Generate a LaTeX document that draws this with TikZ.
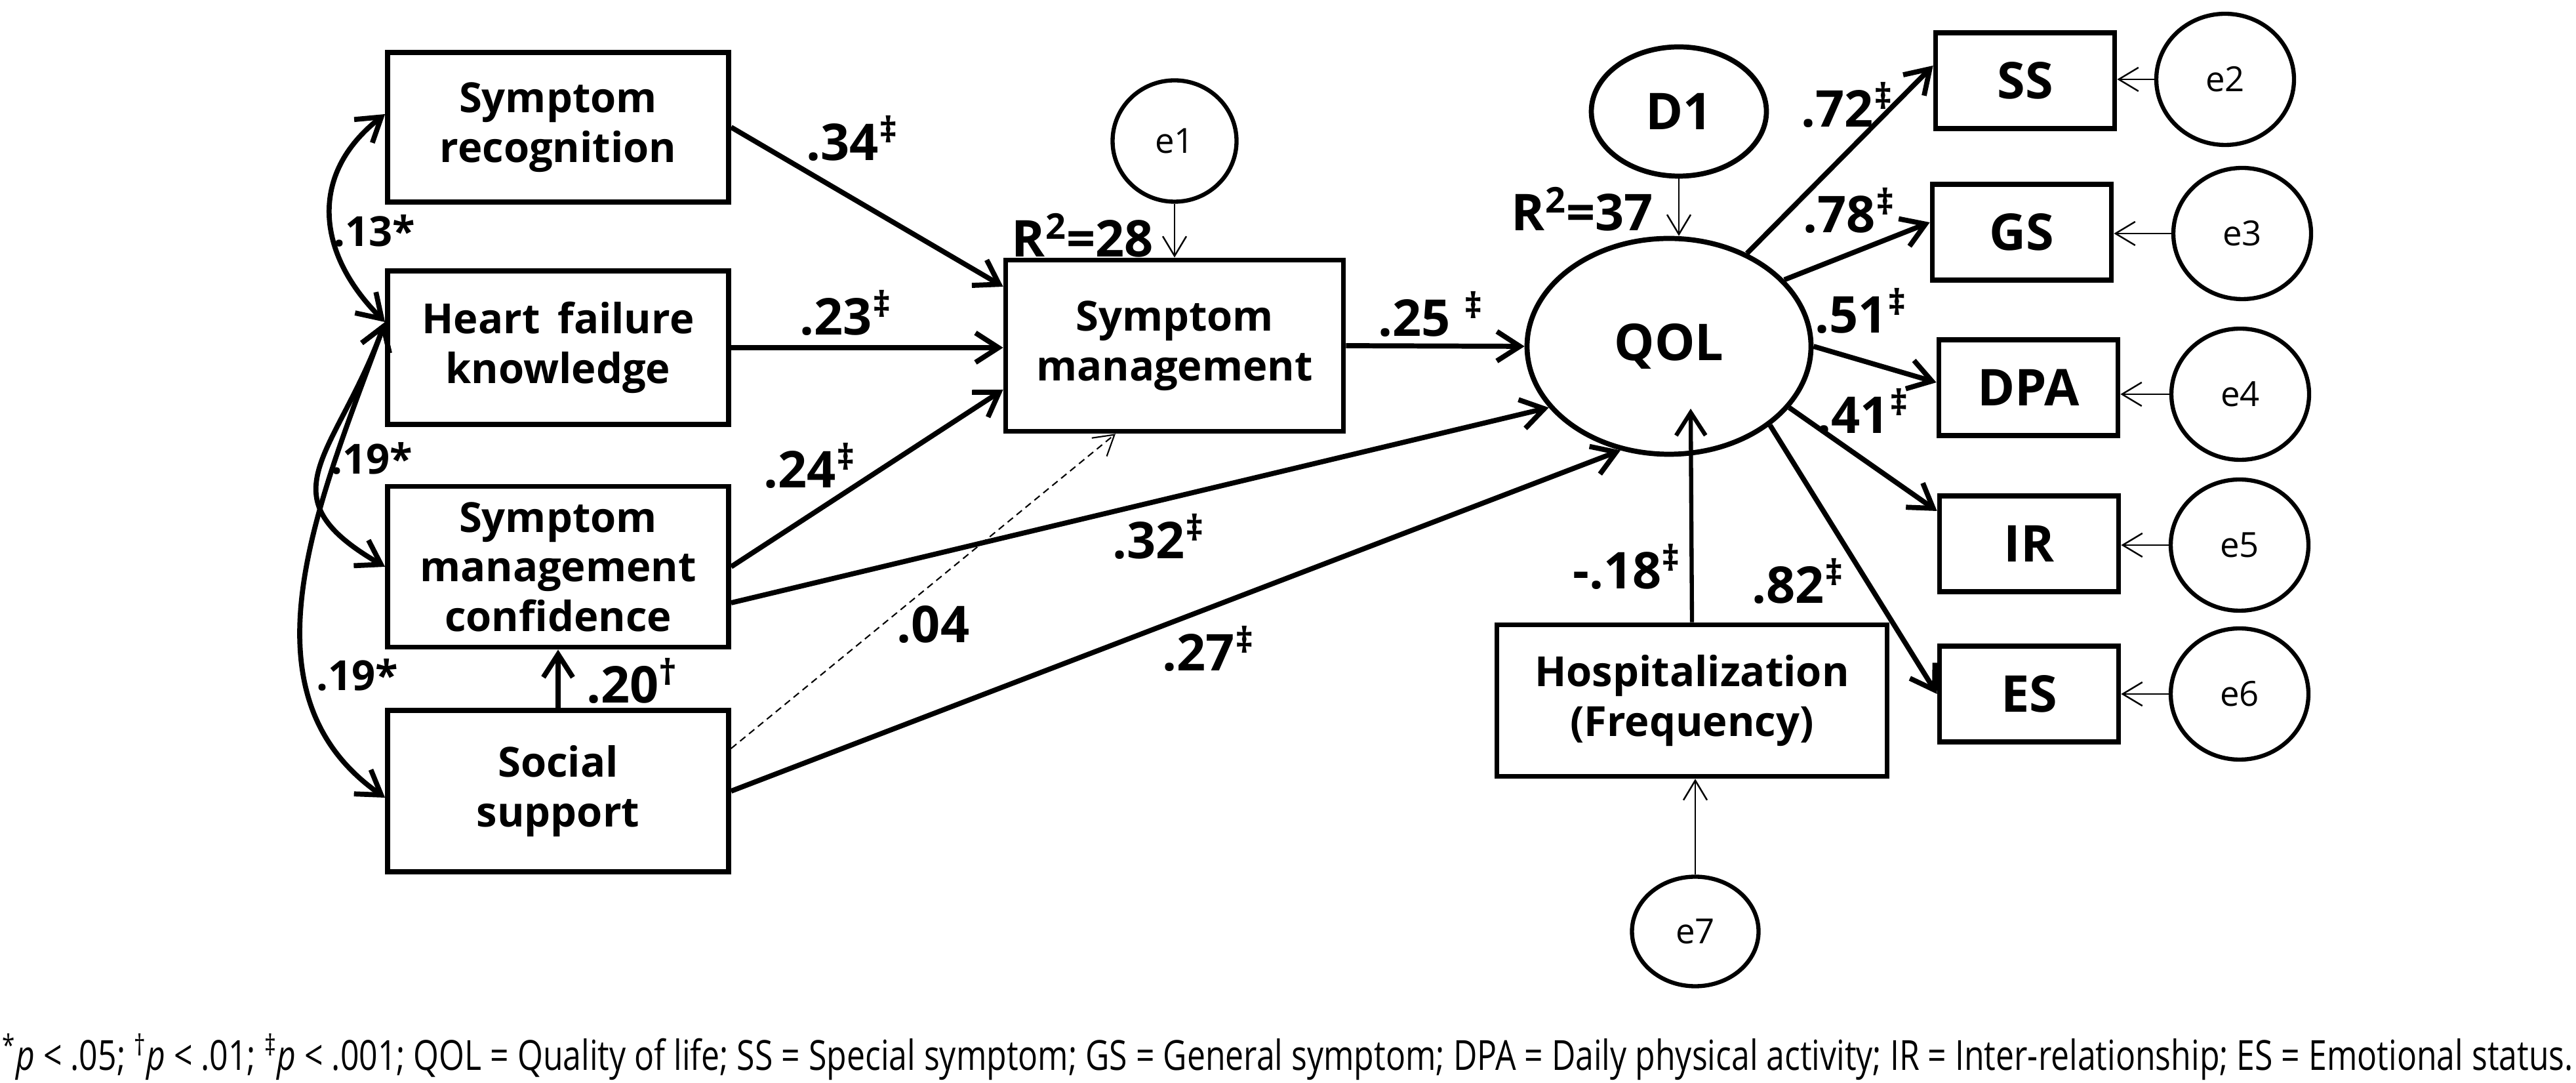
\documentclass[tikz,border=0pt]{standalone}
\usepackage{fontspec}
\setmainfont{Open Sans}
\usepackage{tikz}
\usetikzlibrary{arrows.meta,shapes.geometric}

\tikzset{
  varbox/.style={draw, line width=2.2pt, minimum width=5.2cm, inner sep=0pt, align=center, font=\fontsize{18}{21.5}\selectfont\bfseries},
  indbox/.style={draw, line width=2.2pt, minimum width=2.73cm, minimum height=1.46cm, inner sep=0pt, font=\fontsize{22}{26}\selectfont\bfseries},
  latent/.style={draw, ellipse, line width=2.2pt, inner sep=0pt, font=\fontsize{22}{26}\selectfont\bfseries},
  errcirc/.style={draw, ellipse, line width=1.8pt, minimum width=2.1cm, minimum height=2cm, inner sep=0pt, font=\fontsize{15}{18}\selectfont},
  effect/.style={line width=2.2pt, -{Straight Barb[length=3.5mm,width=4.5mm]}},
  corr/.style={line width=2.2pt, {Straight Barb[length=3.5mm,width=4.5mm]}-{Straight Barb[length=3.5mm,width=4.5mm]}},
  errarrow/.style={line width=0.7pt, -{Straight Barb[length=3mm,width=3.6mm]}},
  coef/.style={inner sep=0pt, font=\fontsize{22}{26}\selectfont\bfseries},
  corrcoef/.style={inner sep=0pt, font=\fontsize{18}{21}\selectfont\bfseries}
}

\begin{document}
\begin{tikzpicture}
\useasboundingbox (0,0) rectangle (39.28,16.51);

% exogenous variables
\node[varbox, minimum height=2.28cm] (sr) at (8.51,14.57) {Symptom\\recognition};
\node[varbox, minimum height=2.34cm] (hf) at (8.51,11.21) {Heart\, failure\\knowledge};
\node[varbox, minimum height=2.45cm] (smc) at (8.51,7.87) {Symptom\\management\\confidence};
\node[varbox, minimum height=2.46cm] (soc) at (8.51,4.45) {Social\\support};

% mediator
\node[varbox, minimum width=5.15cm, minimum height=2.61cm] (sm) at (17.91,11.24) {Symptom\\management};
\node[errcirc, minimum width=1.89cm, minimum height=1.85cm] (e1) at (17.91,14.36) {e1};

% outcome
\node[latent, minimum width=4.33cm, minimum height=3.29cm] (qol) at (25.45,11.23) {QOL};
\node[latent, minimum width=2.67cm, minimum height=1.97cm] (d1) at (25.6,14.81) {D1};
\node[varbox, minimum width=5.95cm, minimum height=2.31cm] (hosp) at (25.8,5.83) {Hospitalization\\(Frequency)};
\node[errcirc, minimum width=1.93cm, minimum height=1.67cm] (e7) at (25.85,2.31) {e7};

% indicators
\node[indbox] (ss) at (30.88,15.28) {SS};
\node[indbox] (gs) at (30.83,12.97) {GS};
\node[indbox] (dpa) at (30.93,10.6) {DPA};
\node[indbox] (ir) at (30.94,8.22) {IR};
\node[indbox] (es) at (30.94,5.93) {ES};
\node[errcirc] (e2) at (33.93,15.3) {e2};
\node[errcirc] (e3) at (34.19,12.95) {e3};
\node[errcirc] (e4) at (34.16,10.5) {e4};
\node[errcirc] (e5) at (34.15,8.2) {e5};
\node[errcirc] (e6) at (34.15,5.93) {e6};

% correlations
\draw[corr] ([yshift=2mm]sr.west) to[out=218,in=135,looseness=1.2] ([yshift=3.9mm]hf.west);
\draw[corr] ([yshift=3.9mm]hf.west) to[out=250,in=150,looseness=1.5] (smc.west);
\draw[corr] ([yshift=3.9mm]hf.west) to[out=250,in=145] ([yshift=-1mm]soc.west);

% paths to symptom management
\draw[effect] (sr.east) -- ([yshift=9mm]sm.west);
\draw[effect] (hf.east) -- (hf.east -| sm.west);
\draw[effect] (smc.east) -- ([yshift=-6.7mm]sm.west);
\draw[errarrow, line width=0.6pt, dash pattern=on 3pt off 2pt] ([yshift=6.5mm]soc.east) -- ([xshift=-9mm]sm.south);
\draw[effect] (soc.north) -- (smc.south);
\draw[errarrow] (e1.south) -- (sm.north);

% paths to QOL
\draw[effect] (sm.east) -- (qol.west);
\draw[effect] ([yshift=-5.5mm]smc.east) -- (qol.207);
\draw[effect] (soc.east) -- (qol.245);
\draw[errarrow] (d1.south) -- (d1.south |- qol.north);
\coordinate (hosptip) at (25.78,10.28);
\draw[effect, line width=1.8pt] (hosp.north) -- (hosptip);
\draw[errarrow] (e7.north) -- (e7.north |- hosp.south);

% measurement part
\draw[effect] (qol.50) -- ([yshift=2.3mm]ss.west);
\draw[effect] (qol.30) -- ([yshift=1.5mm]gs.west);
\draw[effect] (qol.east) -- ([yshift=0.8mm]dpa.west);
\draw[effect] (qol.333) -- ([yshift=5mm]ir.west);
\draw[effect] (qol.322) -- (es.west);
\draw[errarrow] (e2.west) -- (e2.west -| ss.east);
\draw[errarrow] (e3.west) -- (e3.west -| gs.east);
\draw[errarrow] (e4.west) -- (e4.west -| dpa.east);
\draw[errarrow] (e5.west) -- (e5.west -| ir.east);
\draw[errarrow] (e6.west) -- (e6.west -| es.east);

% coefficients
\node[corrcoef] (r13) at (5.71,12.99) {.13*};
\node[corrcoef] (r19a) at (5.67,9.52) {.19*};
\node[corrcoef] (r19b) at (5.45,6.22) {.19*};
\node[coef] (b34) at (13.0,14.4) {.34\textsuperscript{‡}};
\node[coef] (b23) at (12.9,11.74) {.23\textsuperscript{‡}};
\node[coef] (b24) at (12.35,9.41) {.24\textsuperscript{‡}};
\node[coef] (b32) at (17.67,8.33) {.32\textsuperscript{‡}};
\node[coef] (b04) at (14.23,6.99) {.04};
\node[coef] (b27) at (18.43,6.62) {.27\textsuperscript{‡}};
\node[coef] (b20) at (9.64,6.13) {.20\textsuperscript{†}};
\node[coef] (b25) at (21.82,11.72) {.25 \textsuperscript{‡}};
\node[coef] (rsq1) at (16.51,12.92) {R\textsuperscript{2}=28};
\node[coef] (rsq2) at (24.13,13.32) {R\textsuperscript{2}=37};
\node[coef] (l72) at (28.17,14.91) {.72\textsuperscript{‡}};
\node[coef] (l78) at (28.2,13.3) {.78\textsuperscript{‡}};
\node[coef] (l51) at (28.38,11.77) {.51\textsuperscript{‡}};
\node[coef] (l41) at (28.41,10.24) {.41\textsuperscript{‡}};
\node[coef] (b18) at (24.81,7.87) {-.18\textsuperscript{‡}};
\node[coef] (l82) at (27.42,7.65) {.82\textsuperscript{‡}};

% note
\node[anchor=base west, inner sep=0pt, font=\fontsize{18}{20}\selectfont] (note) at (0.03,0.19) {\resizebox{39.2cm}{\height}{\textsuperscript{*}\textit{p} < .05; \textsuperscript{†}\textit{p} < .01; \textsuperscript{‡}\textit{p} < .001; QOL = Quality of life; SS = Special symptom; GS = General symptom; DPA = Daily physical activity; IR = Inter-relationship; ES = Emotional status.}};
\end{tikzpicture}
\end{document}
